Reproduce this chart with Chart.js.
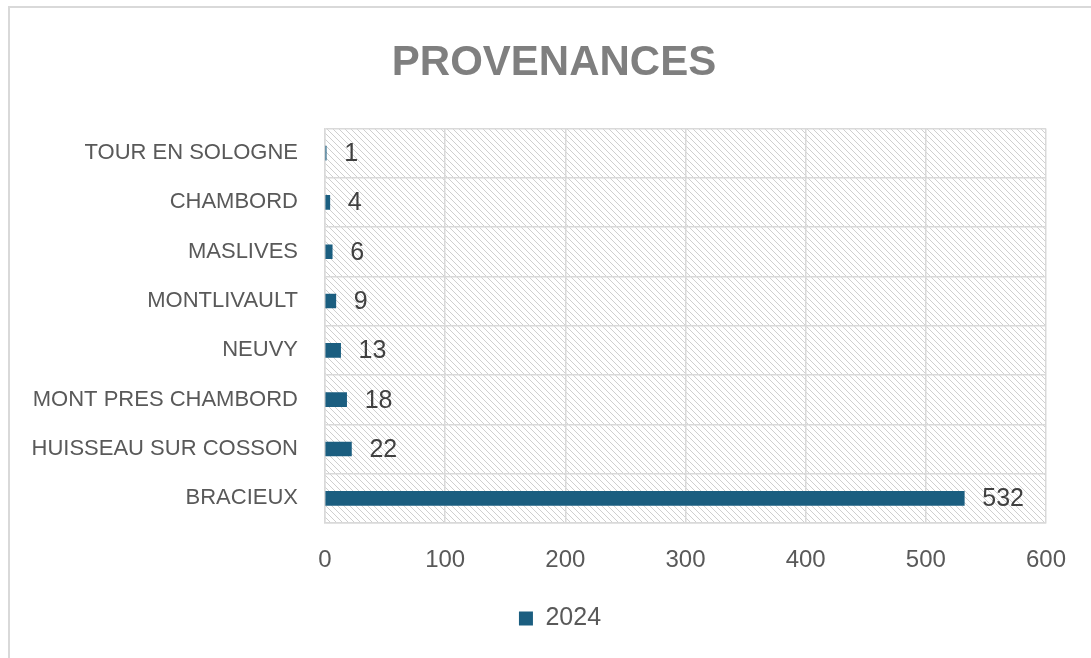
<!DOCTYPE html>
<html>
<head>
<meta charset="utf-8">
<script src="https://cdn.jsdelivr.net/npm/chart.js@4"></script>
<style>
  html, body { margin: 0; padding: 0; background: #fff; }
  #wrap { position: relative; width: 1091px; height: 658px; }
  #frame { position: absolute; left: 8px; top: 6px; width: 1100px; height: 670px;
           border: 2px solid #d9d9d9; box-sizing: border-box; pointer-events: none; }
</style>
</head>
<body>
<div id="wrap">
  <canvas id="chart" width="1091" height="658"></canvas>
  <div id="frame"></div>
</div>
<script>
/* Data */
var towns = ['TOUR EN SOLOGNE', 'CHAMBORD', 'MASLIVES', 'MONTLIVAULT', 'NEUVY',
             'MONT PRES CHAMBORD', 'HUISSEAU SUR COSSON', 'BRACIEUX'];
var visitors2024 = [1, 4, 6, 9, 13, 18, 22, 532];
var seriesName = '2024';
var xTicks = [0, 100, 200, 300, 400, 500, 600];

var barColor = '#1b5e80';
var gridColor = '#d9d9d9';
var textColor = '#595959';
var fontFam = '"Liberation Sans", Arial, sans-serif';

/* Hatched background pattern for the plot area */
function makeHatch() {
  var c = document.createElement('canvas');
  c.width = 6; c.height = 6;
  var g = c.getContext('2d');
  g.fillStyle = '#fff';
  g.fillRect(0, 0, 6, 6);
  g.strokeStyle = '#cfcfcf';
  g.lineWidth = 1;
  g.beginPath();
  g.moveTo(-1, -1); g.lineTo(7, 7);
  g.moveTo(-1, 5); g.lineTo(1, 7);
  g.moveTo(5, -1); g.lineTo(7, 1);
  g.stroke();
  return c;
}

var hatchPlugin = {
  id: 'hatch',
  /* title and legend are centred a bit right of the canvas middle */
  afterLayout: function(chart) {
    if (chart.titleBlock) chart.titleBlock.left = 62;
    if (chart.legend) chart.legend.left = 74;
  },
  beforeDraw: function(chart) {
    var a = chart.chartArea, ctx = chart.ctx;
    ctx.save();
    ctx.fillStyle = ctx.createPattern(makeHatch(), 'repeat');
    ctx.fillRect(a.left, a.top, a.right - a.left, a.bottom - a.top);
    ctx.restore();
  }
};

/* Value labels just past the end of each bar */
var valueLabels = {
  id: 'valueLabels',
  afterDatasetsDraw: function(chart) {
    var ctx = chart.ctx;
    var meta = chart.getDatasetMeta(0);
    ctx.save();
    ctx.font = '25px ' + fontFam;
    ctx.fillStyle = '#404040';
    ctx.textAlign = 'left';
    ctx.textBaseline = 'middle';
    meta.data.forEach(function(bar, i) {
      ctx.fillText(String(chart.data.datasets[0].data[i]), bar.x + 18, bar.y + 1);
    });
    ctx.restore();
  }
};

new Chart(document.getElementById('chart'), {
  type: 'bar',
  data: {
    labels: towns,
    datasets: [{
      label: seriesName,
      data: visitors2024,
      backgroundColor: barColor,
      borderWidth: 0,
      barThickness: 14
    }]
  },
  options: {
    indexAxis: 'y',
    responsive: false,
    animation: false,
    layout: { padding: { left: 0, right: 45, top: 0, bottom: 17 } },
    scales: {
      x: {
        min: 0, max: 600,
        afterBuildTicks: function(s) { s.ticks = xTicks.map(function(v) { return { value: v }; }); },
        afterFit: function(s) { s.height = 73; },
        grid: { color: gridColor, lineWidth: 1.5, drawTicks: false },
        border: { color: gridColor, width: 1.5 },
        ticks: { color: textColor, padding: 23, font: { family: fontFam, size: 24 } }
      },
      y: {
        afterFit: function(s) { s.width = 325; },
        grid: { color: gridColor, lineWidth: 1.5, drawTicks: false, offset: true },
        border: { color: gridColor, width: 1.5 },
        ticks: { color: textColor, padding: 27, font: { family: fontFam, size: 22 } }
      }
    },
    plugins: {
      title: {
        display: true,
        text: 'PROVENANCES',
        color: '#7f7f7f',
        font: { family: fontFam, size: 42, weight: 'bold' },
        padding: { top: 38, bottom: 40 }
      },
      legend: {
        position: 'bottom',
        labels: {
          color: textColor,
          boxWidth: 14, boxHeight: 14,
          padding: 10,
          font: { family: fontFam, size: 25 }
        }
      },
      tooltip: { enabled: false }
    }
  },
  plugins: [hatchPlugin, valueLabels]
});
</script>
</body>
</html>
